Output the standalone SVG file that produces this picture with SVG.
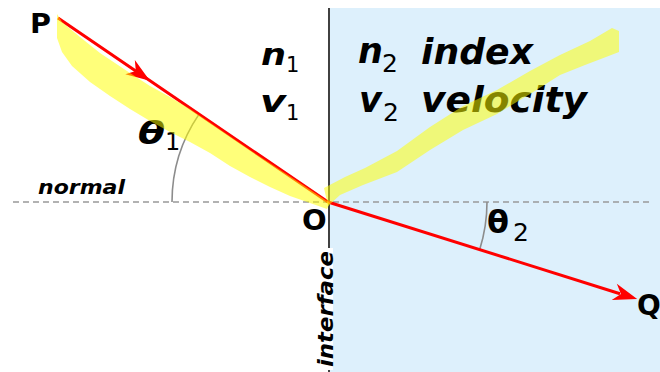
<svg xmlns="http://www.w3.org/2000/svg" width="660" height="372" viewBox="0 0 660 372">
<style>
text{font-family:"DejaVu Sans","Liberation Sans",sans-serif;fill:#000}
.bi{font-weight:bold;font-style:italic}
.b{font-weight:bold}
.sub{font-weight:normal;font-style:normal}
.ray{stroke:#ff0000;stroke-width:3;fill:none}
.arc{stroke:#8c8c8c;stroke-width:1.6;fill:none}
.hl{fill:#ffff00;opacity:0.52}
</style>
<defs>
<marker id="arr" markerUnits="userSpaceOnUse" orient="auto" refX="0" refY="0" markerWidth="40" markerHeight="30" viewBox="-10 -15 40 30" overflow="visible">
<path d="M18,0 L-6,-8.5 L1,0 L-6,8.5 Z" fill="#ff0000"/>
</marker>
</defs>
<g id="background">
<rect x="0" y="0" width="660" height="372" fill="#ffffff"/>
<rect x="330" y="8" width="330" height="364" fill="#ddf0fc"/>
</g>
<g id="guides">
<line x1="329" y1="8" x2="329" y2="372" stroke="#111" stroke-width="1.6"/>
<line x1="13" y1="202" x2="650" y2="202" stroke="#999" stroke-width="1.6" stroke-dasharray="6,4"/>
<path class="arc" d="M172,202 A156,156 0 0 1 199.1,114.1"/>
<path class="arc" d="M487,202 A159,159 0 0 1 479.7,249.5"/>
</g>
<g id="connectors">
<path id="ray-PO" class="ray" d="M58,18 L135,70.5 L328,202" marker-mid="url(#arr)"/>
<path id="ray-OQ" class="ray" d="M328,202 L620,293.7" marker-end="url(#arr)"/>
</g>
<g id="node-P"><text class="b" x="30" y="33" font-size="26" textLength="21" lengthAdjust="spacingAndGlyphs">P</text></g>
<g id="node-O"><text class="b" x="302" y="230" font-size="29">O</text></g>
<g id="node-Q"><text class="b" x="637" y="315" font-size="28">Q</text></g>
<g id="label-normal"><text class="bi" x="38" y="194" font-size="20" textLength="87" lengthAdjust="spacingAndGlyphs">normal</text></g>
<g id="label-medium1">
<text class="bi" x="261" y="65" font-size="30" textLength="25" lengthAdjust="spacingAndGlyphs">n</text><text class="sub" x="286" y="72" font-size="21">1</text>
<text class="bi" x="260" y="112" font-size="30" textLength="26" lengthAdjust="spacingAndGlyphs">v</text><text class="sub" x="286" y="120" font-size="21">1</text>
</g>
<g id="label-medium2">
<text class="bi" x="358" y="63" font-size="35">n</text><text class="sub" x="382" y="72" font-size="25">2</text>
<text class="bi" x="421" y="64" font-size="35" textLength="112" lengthAdjust="spacingAndGlyphs">index</text>
<text class="bi" x="359" y="112" font-size="35">v</text><text class="sub" x="383" y="121" font-size="25">2</text>
<text class="bi" x="421" y="112" font-size="35" textLength="166" lengthAdjust="spacingAndGlyphs">velocity</text>
</g>
<g id="label-theta1">
<text class="bi" x="138" y="144" font-size="32" textLength="27" lengthAdjust="spacingAndGlyphs">θ</text><text class="sub" x="165" y="150" font-size="24">1</text>
</g>
<g id="label-theta2">
<text class="b" x="487" y="233" font-size="32">θ</text><text class="sub" x="513" y="241" font-size="25">2</text>
</g>
<g id="label-interface">
<rect x="314" y="248" width="19" height="122" fill="#ffffff"/>
<text class="bi" transform="translate(333,367) rotate(-90)" x="0" y="0" font-size="22" textLength="116" lengthAdjust="spacingAndGlyphs">interface</text>
</g>
<g id="highlight">
<path class="hl" d="M57,14 L62,22 L80,37 L100,53 L115,63 L130,73 L150,86 L170,97 L190,109 L250,150 L300,183 L330,203 L327,209 L310,203 L290,196 L270,187 L250,177 L230,166 L210,153 L190,142 L170,132 L150,121 L130,109 L110,96 L90,82 L72,66 L62,52 L57,38 Z"/>
<path class="hl" d="M324,188 L345,177 L365,168 L397,151 L430,127 L463,106 L497,90 L530,71 L560,55 L590,41 L612,28 L619,31 L619,52 L606,57 L585,65 L560,75 L530,94 L497,114 L463,130 L430,150 L397,172 L363,185 L340,195 L328,206 Z"/>
</g>
</svg>
